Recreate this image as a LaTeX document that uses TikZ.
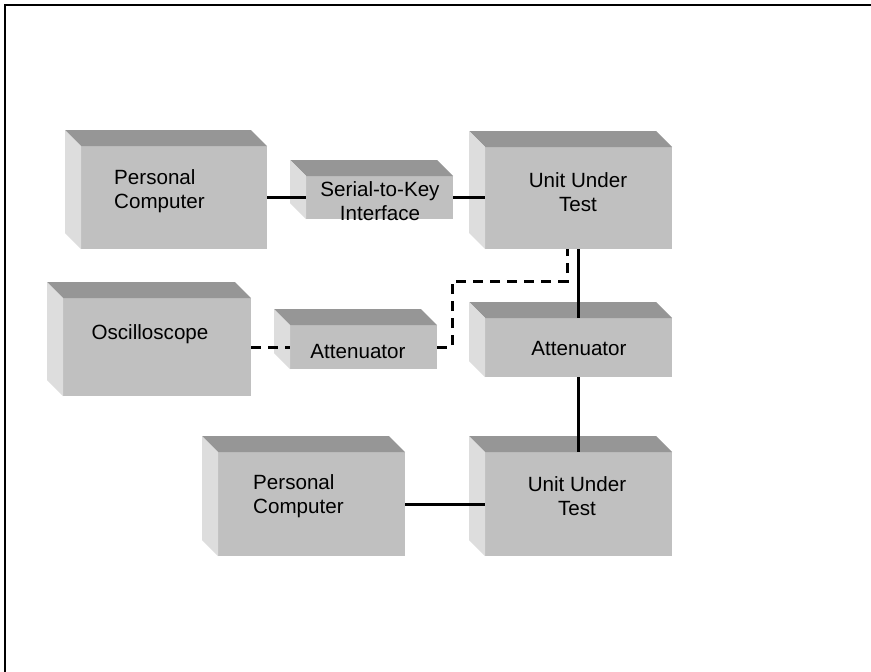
\documentclass[tikz,border=0pt]{standalone}
\usepackage{fontspec}
\setmainfont{Liberation Sans}
\definecolor{frontgray}{RGB}{192,192,192}
\definecolor{topgray}{RGB}{150,150,150}
\definecolor{sidegray}{RGB}{221,221,221}
\begin{document}
\begin{tikzpicture}[x=1pt,y=-1pt,
  block/.style={fill=frontgray, draw=none, inner sep=0pt, outer sep=0pt, anchor=north west},
  lbl/.style={inner sep=0pt, font=\fontsize{20.6}{24}\selectfont},
  wire/.style={line width=3pt},
  probe/.style={line width=3pt, dash pattern=on 10pt off 7pt},
  frame/.style={line width=2.4pt}]
\useasboundingbox (0,0) rectangle (871,672);

% page frame (top and left edges)
\draw[frame] (5,672) -- (5,5) -- (871,5);

% front faces of the boxes
\node[block, minimum width=186pt, minimum height=103pt] (pc1)  at (81,146)  {};
\node[block, minimum width=147pt, minimum height=43pt]  (ser)  at (306,176) {};
\node[block, minimum width=187pt, minimum height=102pt] (uut1) at (485,147) {};
\node[block, minimum width=188pt, minimum height=98pt]  (osc)  at (63,298)  {};
\node[block, minimum width=147pt, minimum height=44pt]  (att1) at (290,325) {};
\node[block, minimum width=187pt, minimum height=59pt]  (att2) at (485,318) {};
\node[block, minimum width=187pt, minimum height=104pt] (pc2)  at (218,452) {};
\node[block, minimum width=187pt, minimum height=104pt] (uut2) at (485,452) {};

% top and left faces giving each box its depth
\foreach \n in {pc1,ser,uut1,osc,att1,att2,pc2,uut2}{
  \fill[topgray] (\n.north west) -- ++(-16,-16)
    -- ([shift={(-16,-16)}]\n.north east) -- (\n.north east) -- cycle;
  \fill[sidegray] (\n.north west) -- ++(-16,-16)
    -- ([shift={(-16,-16)}]\n.south west) -- (\n.south west) -- cycle;
}

% labels
\node[lbl, align=left, anchor=west] (pc1t) at (114,191) {Personal\\Computer};
\node[lbl, align=center] (sert) at (380,201) {Serial-to-Key\\Interface};
\node[lbl, align=center] (uut1t) at (578,192) {Unit Under\\Test};
\node[lbl] (osct) at (150,334) {Oscilloscope};
\node[lbl] (att1t) at (358,352) {Attenuator};
\node[lbl] (att2t) at (579,349) {Attenuator};
\node[lbl, align=left, anchor=west] (pc2t) at (253,496) {Personal\\Computer};
\node[lbl, align=center] (uut2t) at (577,496) {Unit Under\\Test};

% connections
\draw[wire] (pc1.east) -- (ser.west);
\draw[wire] (ser.east) -- (ser.east -| uut1.west);
\draw[wire] (uut1.south) -- (att2.north);
\draw[wire] (att2.south) -- (uut2.north);
\draw[wire] (pc2.east) -- (pc2.east -| uut2.west);

% probe path to the oscilloscope
\coordinate (bendA) at (452,281);
\coordinate (bendB) at (567,281);
\draw[probe] (osc.east) -- (att1.west);
\draw[probe] (att1.east) -| (bendA) -- (bendB) -- (bendB |- uut1.south);
\end{tikzpicture}
\end{document}
